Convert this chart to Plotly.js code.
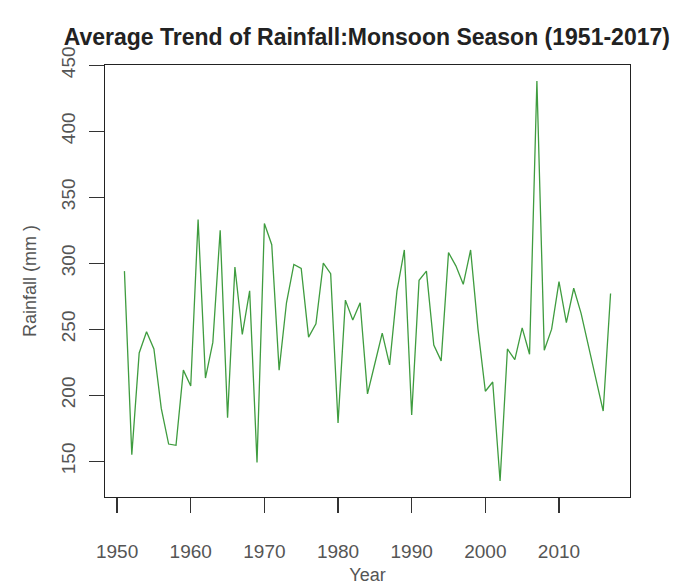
<!DOCTYPE html>
<html>
<head>
<meta charset="utf-8">
<script src="https://cdn.plot.ly/plotly-3.0.1.min.js"></script>
<style>html,body{margin:0;padding:0;background:#fff;}#chart{width:696px;height:585px;}</style>
</head>
<body>
<div id="chart"></div>
<script>
const years = [1951,1952,1953,1954,1955,1956,1957,1958,1959,1960,
  1961,1962,1963,1964,1965,1966,1967,1968,1969,1970,
  1971,1972,1973,1974,1975,1976,1977,1978,1979,1980,
  1981,1982,1983,1984,1985,1986,1987,1988,1989,1990,
  1991,1992,1993,1994,1995,1996,1997,1998,1999,2000,
  2001,2002,2003,2004,2005,2006,2007,2008,2009,2010,
  2011,2012,2013,2014,2015,2016,2017];
const rainfall = [294,155,232,248,235,190,163,162,219,207,
  333,213,240,325,183,297,246,279,149,330,
  314,219,270,299,296,244,254,300,292,179,
  272,257,270,201,224,247,223,279,310,185,
  287,294,238,226,308,298,284,310,250,203,
  210,135,235,227,251,231,438,234,250,286,
  255,281,262,238,213,188,277];
const xTicks = [1950,1960,1970,1980,1990,2000,2010];
const yTicks = [150,200,250,300,350,400,450];

const xmin = Math.min(...years), xmax = Math.max(...years);
const ymin = Math.min(...rainfall), ymax = Math.max(...rainfall);
const xr = [xmin - 0.04*(xmax-xmin), xmax + 0.04*(xmax-xmin)];
const yr = [ymin - 0.04*(ymax-ymin), ymax + 0.04*(ymax-ymin)];

const trace = {
  x: years, y: rainfall, type: 'scatter', mode: 'lines',
  line: {color: '#3f9c3f', width: 1.3},
  hoverinfo: 'x+y'
};
const fontFam = 'Liberation Sans, Arial, sans-serif';
const layout = {
  width: 696, height: 585,
  margin: {l: 105, r: 66, t: 65, b: 88},
  paper_bgcolor: '#fff', plot_bgcolor: '#fff',
  showlegend: false,
  font: {family: fontFam, color: '#444'},
  title: {text: '<b>Average Trend of Rainfall:Monsoon Season (1951-2017)</b>',
    font: {family: fontFam, size: 23, color: '#222'},
    x: 0.527, xanchor: 'center', y: 0.937, yanchor: 'middle'},
  xaxis: {
    range: xr, tickvals: xTicks, ticktext: xTicks.map(String),
    ticks: 'outside', ticklen: 15, tickwidth: 1.2, tickcolor: '#333',
    ticklabelstandoff: 22,
    showgrid: false, zeroline: false,
    showline: true, linecolor: '#222', linewidth: 1.3, mirror: true,
    tickfont: {size: 19, color: '#555'},
    title: {text: 'Year', font: {size: 18, color: '#555'}, standoff: 8}
  },
  yaxis: {
    range: yr, tickvals: yTicks, ticktext: yTicks.map(String),
    ticks: 'outside', ticklen: 15, tickwidth: 1.2, tickcolor: '#333',
    tickangle: -90, ticklabelstandoff: 6,
    showgrid: false, zeroline: false,
    showline: true, linecolor: '#222', linewidth: 1.3, mirror: true,
    tickfont: {size: 19, color: '#555'},
    title: {text: 'Rainfall (mm )', font: {size: 18, color: '#555'}, standoff: 16}
  }
};
Plotly.newPlot('chart', [trace], layout, {displayModeBar: false, staticPlot: true});
</script>
</body>
</html>
